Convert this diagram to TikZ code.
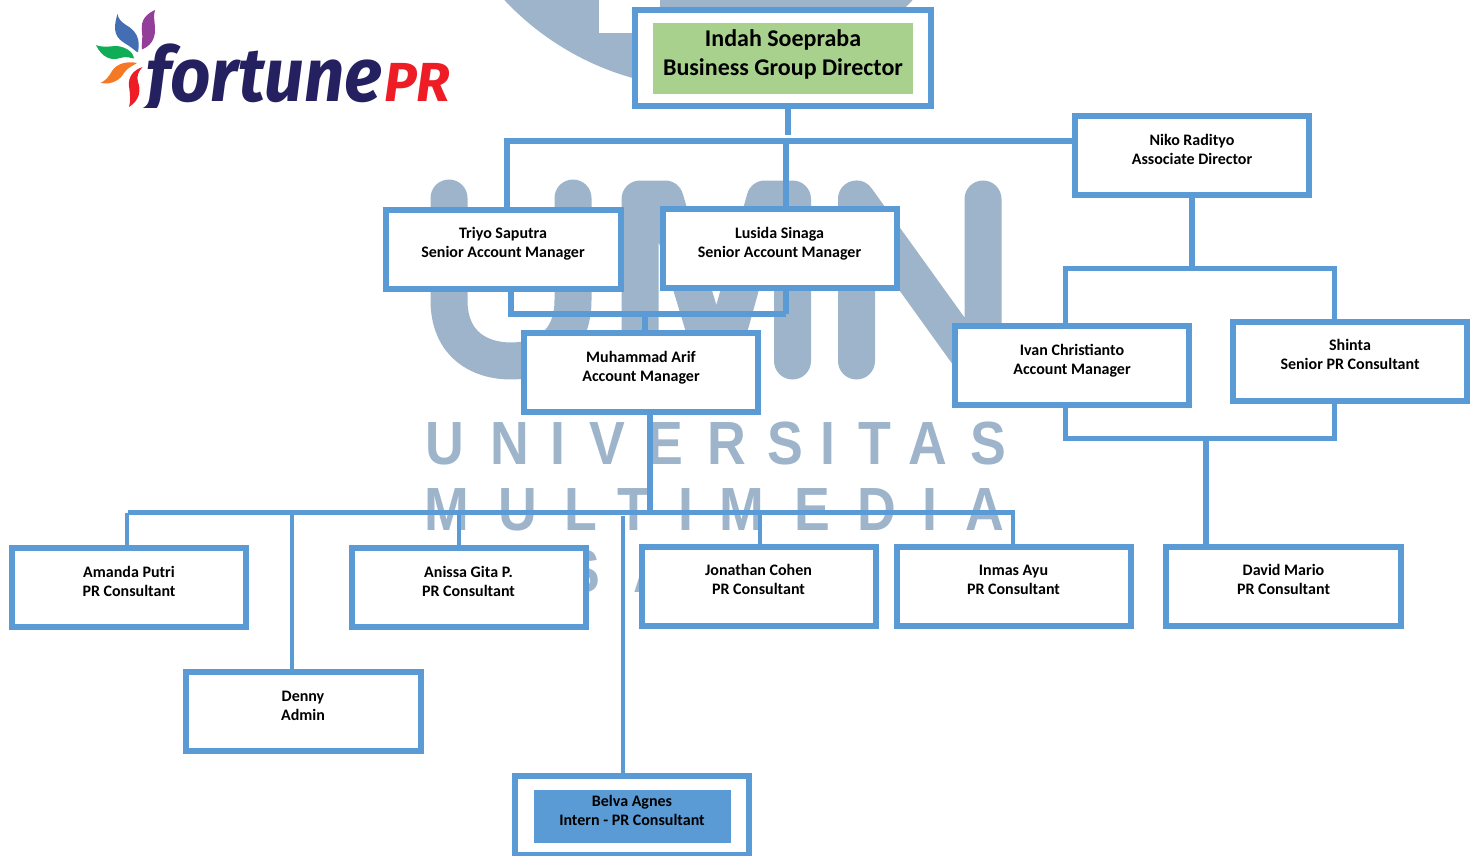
\documentclass[tikz,border=0pt]{standalone}
\usepackage{fontspec}
\setmainfont{Carlito}
\newfontfamily\logofont{Fira Sans}
\newfontfamily\wmfont{Liberation Sans}
\definecolor{linkblue}{HTML}{5B9BD5}
\definecolor{wmgrey}{HTML}{9DB4CB}
\definecolor{dirgreen}{HTML}{A9D18E}
\definecolor{navy}{HTML}{252161}
\definecolor{logored}{HTML}{EE1C25}
\tikzset{
  orgbox/.style={draw=linkblue,line width=6pt,fill=white,minimum width=234.5pt,minimum height=79pt,inner sep=0pt,outer sep=0pt},
  boxtext/.style={font=\bfseries\fontsize{16}{19}\selectfont,align=center,inner sep=0pt,text=black},
  link/.style={draw=linkblue,line width=6pt},
  thinlink/.style={draw=linkblue,line width=4pt},
  wmstroke/.style={draw=wmgrey,line width=37pt,line join=round,line cap=round},
  wmletter/.style={font=\wmfont\bfseries\fontsize{61}{61}\selectfont,text=wmgrey,inner sep=0pt,anchor=base,xscale=0.88}
}
\newcommand{\orgnode}[6][]{%
  \node[orgbox,#1] (#2) at (#3) {};
  \node[boxtext,yshift=-1pt] (#2t) at (#4) {#5\\#6};
}
\begin{document}
\begin{tikzpicture}[x=1pt,y=-1pt]
\useasboundingbox (0,0) rectangle (1475,856);
\fill[white] (0,0) rectangle (1475,856);
% watermark
\begin{scope}
\clip (0,0) rectangle (1475,856);
\fill[wmgrey] (708.5,-191.6) circle (280);
\fill[white] (599,-5) rectangle (660,33);
\end{scope}
\draw[wmstroke] (449,198) -- (449,300) .. controls (449,345) and (480,361) .. (511,361) .. controls (542,361) and (573,345) .. (573,300) -- (573,198);
\draw[wmstroke] (640,361) -- (640,199) -- (665,199) -- (714,361) -- (720,361) -- (765,199) -- (792.5,199) -- (792.5,361);
\draw[wmstroke] (856.5,361) -- (856.5,199) -- (973,361) -- (983,361) -- (983,199);
\foreach \c/\x [count=\i] in {U/445,N/510,I/558,V/607,E/665,R/727,S/785,I/828,T/875,A/928,S/988}
  \node[wmletter] (wa\i) at (\x,464) {\c};
\foreach \c/\x [count=\i] in {M/447,U/518,L/581,T/634,I/686,M/742,E/812,D/877,I/930,A/985}
  \node[wmletter] (wb\i) at (\x,530) {\c};
\node[wmletter] (wc1) at (582,592) {S};
\node[wmletter] (wc2) at (653,592) {A};
% logo
\fill[color={rgb,255:red,68;green,110;blue,180}] (117.5,14) .. controls (112,32) and (116,38) .. (126,44) .. controls (133,48) and (137,53) .. (138,52) .. controls (141,38) and (135,30) .. (126,25) .. controls (121,22) and (118,18) .. (117.5,14) -- cycle;
\fill[color={rgb,255:red,147;green,62;blue,152}] (155,10) .. controls (142,16) and (141,24) .. (142,32) .. controls (143,40) and (141,46) .. (142,49.5) .. controls (150,46) and (155,40) .. (155,30) .. controls (155,22) and (153,16) .. (155,10) -- cycle;
\fill[color={rgb,255:red,14;green,173;blue,86}] (96,45) .. controls (102,58) and (112,61) .. (120,58) .. controls (126,56) and (131,58) .. (134,58.5) .. controls (133,51) and (124,46) .. (115,46) .. controls (106,47) and (100,47) .. (96,45) -- cycle;
\fill[color={rgb,255:red,245;green,120;blue,36}] (100.5,83) .. controls (112,85) and (120,80) .. (124,73) .. controls (128,67) and (133,66) .. (137,63) .. controls (128,61) and (117,63) .. (112,71) .. controls (109,77) and (105,81) .. (100.5,83) -- cycle;
\fill[color=logored] (129,107) .. controls (140,100) and (141,90) .. (138,82) .. controls (136,76) and (139,71) .. (142.5,67) .. controls (134,70) and (128,76) .. (129,86) .. controls (130,94) and (131,101) .. (129,107) -- cycle;
\begin{scope}
\clip (130,0) rectangle (400,108);
\node[inner sep=0pt,anchor=base west,font=\logofont\bfseries\itshape\fontsize{76}{76}\selectfont,text=navy,xscale=0.93] (logoa) at (146,102) {fortune};
\end{scope}
\node[inner sep=0pt,anchor=base west,font=\logofont\bfseries\itshape\fontsize{55}{55}\selectfont,text=logored] (logob) at (384,102) {PR};
% junctions
\coordinate (j1) at (507,141);
\coordinate (j2) at (785.5,141);
\coordinate (j3) at (787.5,135);
\coordinate (j4) at (511,314);
\coordinate (j5) at (786,314);
\coordinate (j6) at (645,314);
\coordinate (j7) at (650,512.5);
\coordinate (j8) at (1065,268);
\coordinate (j9) at (1334,268);
\coordinate (j10) at (1065,438);
\coordinate (j11) at (1334,438);
\coordinate (j12) at (1206,438);
\coordinate (j13) at (1192,268);
\coordinate (hL) at (128,512.5);
\coordinate (hR) at (1015,512.5);
\coordinate (b1) at (127,512.5);
\coordinate (b2) at (291.5,512.5);
\coordinate (b3) at (459,512.5);
\coordinate (b4) at (622.5,516);
\coordinate (b5) at (760,512.5);
\coordinate (b6) at (1012.7,512.5);
\path (787.5,109) coordinate (dirs);
\path (1075,141) coordinate (nikow);
\path (507,207) coordinate (trin) (785.5,207) coordinate (lusn)
      (511,291) coordinate (tris) (786,291) coordinate (luss)
      (645,330) coordinate (muhn) (650,414) coordinate (muhs)
      (1192,198) coordinate (nikos) (1065,323) coordinate (ivann) (1334,319) coordinate (shinn)
      (1065,408) coordinate (ivans) (1334,404) coordinate (shins) (1206,544) coordinate (davn)
      (127,545) coordinate (aman) (291.5,670) coordinate (denn) (459,545) coordinate (anin)
      (622.5,775) coordinate (beln) (760,544) coordinate (jonn) (1012.7,544) coordinate (inmn);
\draw[link] (dirs) -- (j3);
\draw[link] (nikow) -- (j2) -- (j1) -- (trin);
\draw[link] (j2) -- (lusn);
\draw[link] (tris) -- (j4) -- (j5);
\draw[link] (luss) -- (j5);
\draw[link] (j6) -- (muhn);
\draw[link] (muhs) -- (j7);
\draw[link,line width=4.5pt] (hL) -- (hR);
\draw[link] (nikos) -- (j13);
\draw[link,line width=5pt] (ivann) -- (j8) -- (j9) -- (shinn);
\draw[link,line width=5pt] (ivans) -- (j10) -- (j11) -- (shins);
\draw[link] (j12) -- (davn);
\draw[thinlink] (b1) -- (aman);
\draw[thinlink] (b2) -- (denn);
\draw[thinlink] (b3) -- (anin);
\draw[thinlink] (b4) -- (beln);
\draw[thinlink] (b5) -- (jonn);
\draw[thinlink] (b6) -- (inmn);
% director
\node[orgbox,minimum width=296.5pt,minimum height=96.5pt] (dir) at (783,58) {};
\node[fill=dirgreen,minimum width=260pt,minimum height=71pt,inner sep=0pt] (dirfill) at (783,58.5) {};
\node[boxtext,font=\bfseries\fontsize{24}{29}\selectfont] (dirt) at (783,54) {Indah Soepraba\\Business Group Director};
% staff
\orgnode{tri}{503.5,249}{503,242.5}{Triyo Saputra}{Senior Account Manager}
\orgnode{lus}{780,248.5}{779.5,242.5}{Lusida Sinaga}{Senior Account Manager}
\orgnode{muh}{641,372}{641,366.5}{Muhammad Arif}{Account Manager}
\orgnode{nik}{1192,155.5}{1192,148.5}{Niko Radityo}{Associate Director}
\orgnode{iva}{1072,365.5}{1072,359.5}{Ivan Christianto}{Account Manager}
\orgnode{shi}{1350,361.5}{1350,353.5}{Shinta}{Senior PR Consultant}
\orgnode{ama}{129,587.5}{129,580.5}{Amanda Putri}{PR Consultant}
\orgnode{ani}{469,587.5}{468.5,580.5}{Anissa Gita P.}{PR Consultant}
\orgnode{jon}{759,586}{758.5,578.5}{Jonathan Cohen}{PR Consultant}
\orgnode{inm}{1014,586}{1013.5,578.5}{Inmas Ayu}{PR Consultant}
\orgnode{dav}{1283.5,586}{1283.5,578.5}{David Mario}{PR Consultant}
\orgnode{den}{303.5,711.5}{303,704.5}{Denny}{Admin}
\node[orgbox] (bel) at (632,815) {};
\node[fill=linkblue,minimum width=197pt,minimum height=53pt,inner sep=0pt] (belfill) at (632.5,816.5) {};
\node[boxtext] (belt) at (632,810.5) {Belva Agnes\\Intern - PR Consultant};
\end{tikzpicture}
\end{document}
